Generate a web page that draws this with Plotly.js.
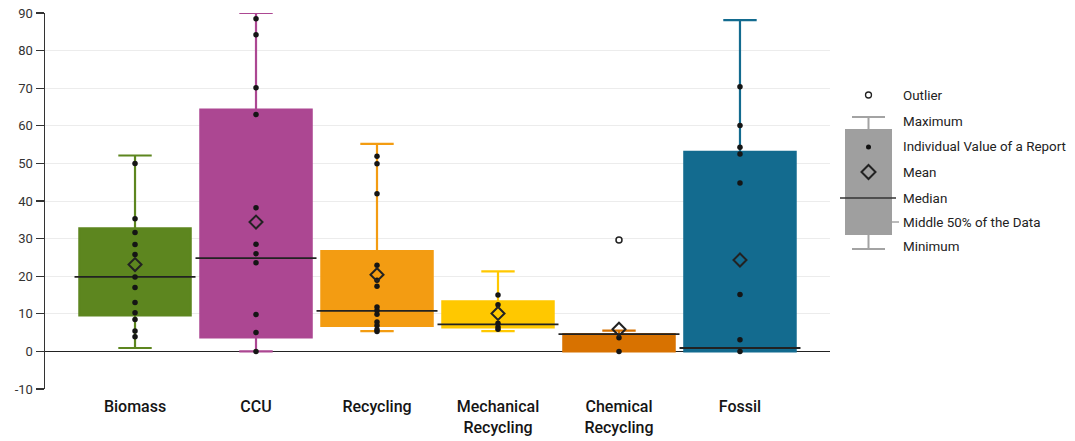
<!DOCTYPE html>
<html>
<head>
<meta charset="utf-8">
<script src="https://cdn.plot.ly/plotly-3.0.1.min.js"></script>
<style>html,body{margin:0;padding:0;background:#fff;}#chart{width:1075px;height:441px;}</style>
</head>
<body>
<div id="chart"></div>
<script>
// ---- data ----
const categories = ['Biomass', 'CCU', 'Recycling', 'Mechanical<br>Recycling', 'Chemical<br>Recycling', 'Fossil'];
const colors = ['#5d861f', '#ac4792', '#f39c12', '#ffc800', '#d87200', '#136b8f'];
const q1 = [9.6, 3.7, 6.8, 6.4, 0, 0];
const medians = [19.8, 24.8, 10.8, 7.2, 4.6, 0.9];
const q3 = [32.7, 64.3, 26.7, 13.3, 4.6, 53.1];
const lowerFence = [0.9, 0, 5.4, 5.4, 0, 0];
const upperFence = [52.1, 90, 55.2, 21.3, 5.5, 88.1];
const means = [23.1, 34.4, 20.4, 10.1, 5.9, 24.3];
const pointsBiomass = [50, 35.3, 31.6, 28.4, 25.8, 19.8, 17.0, 13.0, 10.3, 8.5, 5.4, 3.9];
const pointsCCU = [88.5, 84.2, 70.1, 63.0, 38.2, 28.5, 26.0, 23.6, 9.8, 5.0, 0];
const pointsRecycling = [51.9, 49.9, 41.9, 22.9, 18.9, 17.3, 11.8, 10.9, 9.9, 7.8, 6.9, 5.8, 5.3];
const pointsMechanical = [15.0, 12.4, 7.5, 6.5, 5.9];
const pointsChemical = [3.6, 0];
const pointsFossil = [70.4, 60.1, 54.3, 52.5, 44.8, 15.1, 3.1, 0];
const outliersChemical = [29.6];
const yTickVals = [-10, 0, 10, 20, 30, 40, 50, 60, 70, 80, 90];
const yTickText = ['-10', '0', '10', '20', '30', '40', '50', '60', '70', '80', '90'];
const legendLabels = ['Outlier', 'Maximum', 'Individual Value of a Report', 'Mean', 'Median', 'Middle 50% of the Data', 'Minimum'];

const allPoints = [pointsBiomass, pointsCCU, pointsRecycling, pointsMechanical, pointsChemical, pointsFossil];
const allOutliers = [[], [], [], [], outliersChemical, []];

const FONT = 'Roboto, "Open Sans", sans-serif';
const traces = [];

// boxes
categories.forEach((c, i) => {
  traces.push({
    type: 'box', x: [i], q1: [q1[i]], median: [medians[i]], q3: [q3[i]],
    lowerfence: [lowerFence[i]], upperfence: [upperFence[i]],
    width: 0.92, whiskerwidth: 0.3, boxpoints: false,
    fillcolor: colors[i], line: {color: colors[i], width: 2.2},
    showlegend: false, hoverinfo: 'skip'
  });
});

// medians (black, full category width)
const mx = [], my = [];
medians.forEach((m, i) => { mx.push(i - 0.5, i + 0.5, null); my.push(m, m, null); });
traces.push({type: 'scatter', mode: 'lines', x: mx, y: my, line: {color: '#222', width: 1.8}, showlegend: false, hoverinfo: 'skip'});

// individual values
const px = [], py = [];
allPoints.forEach((arr, i) => arr.forEach(v => { px.push(i); py.push(v); }));
traces.push({type: 'scatter', mode: 'markers', x: px, y: py, marker: {color: '#151515', size: 5.5}, showlegend: false, hoverinfo: 'skip'});

// outliers
const ox = [], oy = [];
allOutliers.forEach((arr, i) => arr.forEach(v => { ox.push(i); oy.push(v); }));
traces.push({type: 'scatter', mode: 'markers', x: ox, y: oy, marker: {color: '#fff', size: 6, line: {color: '#222', width: 1.5}}, showlegend: false, hoverinfo: 'skip'});

// means
traces.push({type: 'scatter', mode: 'markers', x: categories.map((c, i) => i), y: means,
  marker: {symbol: 'diamond-open', color: '#222', size: 10, line: {width: 2, color: '#222'}}, showlegend: false, hoverinfo: 'skip'});

// ---- legend (drawn with shapes in paper coords) ----
const L = 45, R = 245, T = 13, B = 52, W = 1075, H = 441;
const PW = W - L - R, PH = H - T - B;
const PX = p => (p - L) / PW;
const PY = p => (H - B - p) / PH;
const gray = '#a3a3a3';
const shapes = [
  {type: 'rect', xref: 'paper', yref: 'paper', x0: PX(845), x1: PX(892), y0: PY(129), y1: PY(235), fillcolor: '#9f9f9f', line: {width: 0}},
  {type: 'line', xref: 'paper', yref: 'paper', x0: PX(868.5), x1: PX(868.5), y0: PY(117), y1: PY(129), line: {color: gray, width: 2}},
  {type: 'line', xref: 'paper', yref: 'paper', x0: PX(852), x1: PX(885), y0: PY(117), y1: PY(117), line: {color: gray, width: 2}},
  {type: 'line', xref: 'paper', yref: 'paper', x0: PX(868.5), x1: PX(868.5), y0: PY(235), y1: PY(249), line: {color: gray, width: 2}},
  {type: 'line', xref: 'paper', yref: 'paper', x0: PX(852), x1: PX(885), y0: PY(249), y1: PY(249), line: {color: gray, width: 2}},
  {type: 'line', xref: 'paper', yref: 'paper', x0: PX(840), x1: PX(896), y0: PY(198), y1: PY(198), line: {color: '#333', width: 1.5}},
  {type: 'line', xref: 'paper', yref: 'paper', x0: PX(892), x1: PX(899), y0: PY(222), y1: PY(222), line: {color: '#777', width: 1}},
  {type: 'circle', xref: 'paper', yref: 'paper', x0: PX(865.5), x1: PX(871.5), y0: PY(92), y1: PY(98), fillcolor: '#fff', line: {color: '#222', width: 1.3}},
  {type: 'circle', xref: 'paper', yref: 'paper', x0: PX(866), x1: PX(871), y0: PY(144.5), y1: PY(149.5), fillcolor: '#111', line: {width: 0}},
  {type: 'path', xref: 'paper', yref: 'paper',
    path: `M ${PX(861.5)} ${PY(172)} L ${PX(868.5)} ${PY(165)} L ${PX(875.5)} ${PY(172)} L ${PX(868.5)} ${PY(179)} Z`,
    fillcolor: 'rgba(0,0,0,0)', line: {color: '#222', width: 2}}
];
const legendY = [96, 121, 146.5, 172, 198, 222, 246];
const annotations = legendLabels.map((t, i) => ({
  xref: 'paper', yref: 'paper', x: PX(901), y: PY(legendY[i]), xanchor: 'left', yanchor: 'middle',
  text: t, showarrow: false, font: {family: FONT, size: 13.4, color: '#222'}
}));

const layout = {
  width: W, height: H,
  margin: {l: L, r: R, t: T, b: B, pad: 0},
  paper_bgcolor: '#fff', plot_bgcolor: '#fff',
  showlegend: false,
  font: {family: FONT, color: '#222'},
  xaxis: {
    range: [-0.744, 5.744], tickvals: categories.map((c, i) => i), ticktext: categories,
    showgrid: false, zeroline: false, showline: false, ticks: '',
    ticklabelstandoff: 6,
    tickfont: {family: FONT, size: 16, color: '#151515', weight: 500}, fixedrange: true
  },
  yaxis: {
    range: [-10, 90], tickvals: yTickVals, ticktext: yTickText,
    showgrid: true, gridcolor: '#ececec', gridwidth: 1,
    zeroline: true, zerolinecolor: '#222', zerolinewidth: 1.5,
    showline: true, linecolor: '#333', linewidth: 1.5,
    ticks: 'outside', ticklen: 8, tickcolor: '#333', tickwidth: 1.2,
    tickfont: {family: FONT, size: 13, color: '#333'}, fixedrange: true
  },
  shapes: shapes,
  annotations: annotations
};

Plotly.newPlot('chart', traces, layout, {displayModeBar: false, staticPlot: true});
</script>
</body>
</html>
